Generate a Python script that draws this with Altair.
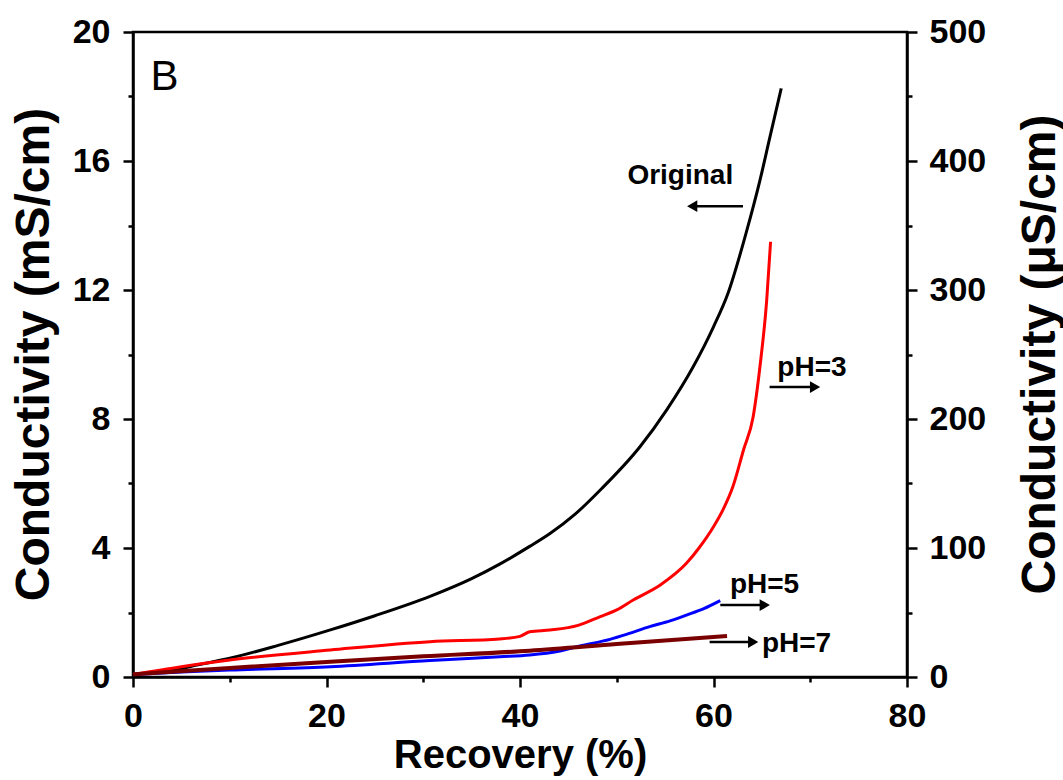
import altair as alt
import pandas as pd

# ---------------- data ----------------
# Original (left axis, mS/cm)
orig_x = [0, 5, 6.6, 10, 15, 20.4, 25, 30.7, 35, 37.9, 41, 43.1, 45.7, 48.3, 52.4, 55.2, 57.9, 60.0, 61.5, 63.4, 64.8, 65.8, 67.0]
orig_y = [0.08, 0.26, 0.37, 0.58, 0.98, 1.46, 1.90, 2.50, 3.05, 3.50, 4.05, 4.45, 5.05, 5.8, 7.14, 8.3, 9.62, 10.86, 11.9, 13.8, 15.4, 16.7, 18.25]

# pH=3 (right axis, uS/cm)
ph3_x = [0, 5, 10, 20.4, 30.7, 37.9, 40, 41, 43.1, 46, 48.3, 50, 51.7, 54.5, 57.2, 58.5, 60.0, 61.0, 62.0, 63.1, 64.1, 64.8, 65.5, 65.9]
ph3_y = [2, 8, 13.2, 20.9, 27.4, 29.5, 31.5, 35, 36.4, 40, 46.8, 52, 59.7, 71.3, 88.1, 100, 116.5, 130, 147.5, 176, 201.8, 240.5, 292.2, 337.4]

# pH=5 (right axis, uS/cm)
ph5_x = [0, 5, 10, 20.4, 30.7, 37.9, 41, 44, 46.2, 49.3, 51, 53.4, 55.5, 57.2, 59, 60.7]
ph5_y = [2, 3.8, 5.4, 8.0, 12.8, 15.7, 17.1, 20, 24.0, 29.2, 33, 39, 43.5, 48, 53, 59.2]

# pH=7 (right axis, uS/cm)
ph7_x = [0, 10, 20.4, 30, 41, 50, 61.4]
ph7_y = [2, 7, 11.9, 16, 20.4, 25.5, 31.8]

# tick values
x_ticks = [0, 10, 20, 30, 40, 50, 60, 70, 80]
left_ticks = [0, 2, 4, 6, 8, 10, 12, 14, 16, 18, 20]
right_ticks = [0, 50, 100, 150, 200, 250, 300, 350, 400, 450, 500]

# annotations (data coordinates: Recovery %, left-axis mS/cm)
ann_text = ["Original", "pH=3", "pH=5", "pH=7"]
ann_x = [51.1, 66.6, 61.7, 65.0]
ann_y = [15.29, 9.33, 2.60, 0.78]

arrow_tail_x = [63.05, 65.8, 60.7, 59.6]
arrow_head_x = [57.8, 70.5, 65.3, 64.1]
arrow_y = [14.60, 8.99, 2.23, 1.085]
arrow_dir = ["left", "right", "right", "right"]

panel_label = "B"
panel_x = 1.8
panel_y = 18.2

FONT = "Liberation Sans"

# ---------------- axes & scales ----------------
x_scale = alt.Scale(domain=[0, 80], nice=False, zero=False)
yl_scale = alt.Scale(domain=[0, 20], nice=False, zero=False)
yr_scale = alt.Scale(domain=[0, 500], nice=False, zero=False)

common = dict(
    grid=False,
    domainColor="black",
    domainWidth=2.5,
    tickColor="black",
    tickWidth=2.5,
    labelFont=FONT,
    labelFontSize=34,
    labelFontWeight="bold",
    labelColor="black",
    labelOverlap=False,
    labelFlush=False,
    titleFont=FONT,
    titleFontWeight="bold",
    titleColor="black",
    titleAlign="center",
)

x_axis = alt.Axis(
    title="Recovery (%)",
    values=x_ticks,
    labelExpr="datum.value % 20 === 0 ? datum.label : ''",
    tickSize={"condition": {"test": "datum.value % 20 === 0", "value": 10}, "value": 5},
    labelPadding=12,
    titleFontSize=40,
    titleBaseline="alphabetic",
    titleX=387,
    titleY=90,
    **common,
)

yl_axis = alt.Axis(
    title="Conductivity (mS/cm)",
    orient="left",
    values=left_ticks,
    labelExpr="datum.value % 4 === 0 ? datum.label : ''",
    tickSize={"condition": {"test": "datum.value % 4 === 0", "value": 10}, "value": 5},
    labelPadding=13,
    titleFontSize=48,
    titleAngle=270,
    titleBaseline="middle",
    titleX=-99,
    titleY=322,
    **common,
)

yr_axis = alt.Axis(
    title="Conductivity (μS/cm)",
    orient="right",
    values=right_ticks,
    labelExpr="datum.value % 100 === 0 ? datum.label : ''",
    tickSize={"condition": {"test": "datum.value % 100 === 0", "value": 10}, "value": 5},
    labelPadding=12,
    titleFontSize=48,
    titleAngle=270,
    titleBaseline="middle",
    titleX=133,
    titleY=322,
    **common,
)


def X(field):
    return alt.X(f"{field}:Q", scale=x_scale, axis=x_axis)


def YL(field):
    return alt.Y(f"{field}:Q", scale=yl_scale, axis=yl_axis)


def YR(field):
    return alt.Y(f"{field}:Q", scale=yr_scale, axis=yr_axis)


# ---------------- data frames ----------------
df_orig = pd.DataFrame({"rec": orig_x, "val": orig_y})
df_ph3 = pd.DataFrame({"rec": ph3_x, "val": ph3_y})
df_ph5 = pd.DataFrame({"rec": ph5_x, "val": ph5_y})
df_ph7 = pd.DataFrame({"rec": ph7_x, "val": ph7_y})

df_ann = pd.DataFrame({"label": ann_text, "rec": ann_x, "val": ann_y})
df_arrow = pd.DataFrame({
    "rec": arrow_tail_x, "rec2": arrow_head_x, "val": arrow_y, "dir": arrow_dir,
})
df_panel = pd.DataFrame({"label": [panel_label], "rec": [panel_x], "val": [panel_y]})

# ---------------- left layer ----------------
line_orig = alt.Chart(df_orig).mark_line(
    color="black", strokeWidth=3, interpolate="monotone"
).encode(x=X("rec"), y=YL("val"))

ann = alt.Chart(df_ann).mark_text(
    font=FONT, fontSize=28, fontWeight="bold", color="black", align="left", baseline="alphabetic"
).encode(x=X("rec"), y=YL("val"), text="label:N")

arrow_lines = alt.Chart(df_arrow).mark_rule(color="black", strokeWidth=2.5).encode(
    x=X("rec"), x2="rec2:Q", y=YL("val")
)

heads_left = alt.Chart(df_arrow).transform_filter("datum.dir === 'left'").mark_point(
    shape="triangle-left", filled=True, color="black", size=140, opacity=1
).encode(x=X("rec2"), y=YL("val"))

heads_right = alt.Chart(df_arrow).transform_filter("datum.dir === 'right'").mark_point(
    shape="triangle-right", filled=True, color="black", size=140, opacity=1
).encode(x=X("rec2"), y=YL("val"))

panel = alt.Chart(df_panel).mark_text(
    font=FONT, fontSize=42, fontWeight="normal", color="black", align="left", baseline="alphabetic"
).encode(x=X("rec"), y=YL("val"), text="label:N")

left = alt.layer(line_orig, arrow_lines, heads_left, heads_right, ann, panel)

# ---------------- right layer ----------------
line_ph3 = alt.Chart(df_ph3).mark_line(
    color="#ff0000", strokeWidth=3, interpolate="monotone"
).encode(x=X("rec"), y=YR("val"))
line_ph5 = alt.Chart(df_ph5).mark_line(
    color="#0000ff", strokeWidth=3, interpolate="monotone"
).encode(x=X("rec"), y=YR("val"))
line_ph7 = alt.Chart(df_ph7).mark_line(
    color="#7a0000", strokeWidth=4, interpolate="monotone"
).encode(x=X("rec"), y=YR("val"))

right = alt.layer(line_ph3, line_ph5, line_ph7)

chart = (
    alt.layer(left, right)
    .resolve_scale(y="independent")
    .resolve_axis(y="independent")
    .properties(
        width=774,
        height=645,
        padding={"left": 133, "top": 32, "right": 156, "bottom": 103},
        autosize=alt.AutoSizeParams(type="none"),
        background="white",
    )
    .configure_view(stroke="black", strokeWidth=2.5)
)

chart.save("out.html", embed_options={"renderer": "svg", "actions": False})
